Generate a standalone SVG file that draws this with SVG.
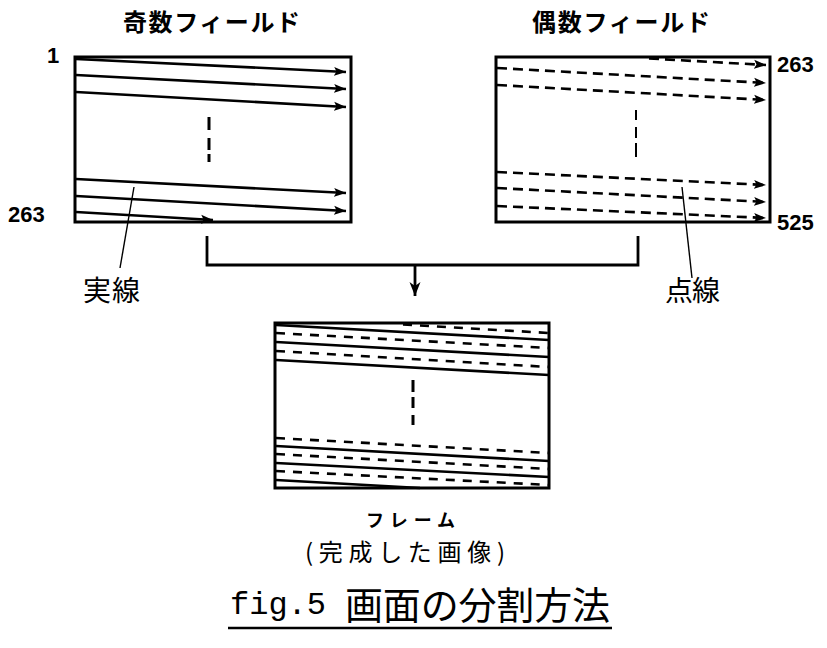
<svg xmlns="http://www.w3.org/2000/svg" width="827" height="648" viewBox="0 0 827 648">
<style>
.box{fill:none;stroke:#000;stroke-width:3}
.sl{fill:none;stroke:#000;stroke-width:2.6}
.dl{fill:none;stroke:#000;stroke-width:2.6;stroke-dasharray:10 6}
.fd{fill:none;stroke:#000;stroke-width:2.6;stroke-dasharray:9 8}
.vd{fill:none;stroke:#000;stroke-width:3}
.con{fill:none;stroke:#000;stroke-width:2.8}
.lead{fill:none;stroke:#000;stroke-width:1.4}
.ttl{font-family:"Noto Sans CJK JP","Noto Sans",sans-serif;font-weight:bold;font-size:24px;fill:#000}
.lbl{font-family:"Noto Sans CJK JP","Noto Sans",sans-serif;font-size:28px;fill:#000}
.num{font-family:"Liberation Sans",Arial,sans-serif;font-weight:bold;font-size:22px;fill:#000}
</style>
<defs>
<marker id="ah" markerUnits="userSpaceOnUse" markerWidth="14" markerHeight="12" refX="12" refY="5" orient="auto">
<path d="M0,0.5 L12,5 L0,9.5 L2.5,5 Z" fill="#000"/>
</marker>
<marker id="down" markerUnits="userSpaceOnUse" markerWidth="16" markerHeight="14" refX="14" refY="6" orient="auto">
<path d="M0,0.5 L4,6 L0,11.5 L14,6 Z" fill="#000"/>
</marker>
</defs>
<rect width="827" height="648" fill="#fff"/>

<g id="odd-field">
<text class="ttl" x="123" y="31" textLength="177" lengthAdjust="spacing">奇数フィールド</text>
<rect class="box" x="75" y="57" width="276" height="165"/>
<path class="sl" d="M76,59 L346,72" marker-end="url(#ah)"/>
<path class="sl" d="M76,75 L346,89" marker-end="url(#ah)"/>
<path class="sl" d="M76,92 L346,107" marker-end="url(#ah)"/>
<path class="sl" d="M76,179 L346,193" marker-end="url(#ah)"/>
<path class="sl" d="M76,196 L346,211" marker-end="url(#ah)"/>
<path class="sl" d="M76,212 L213,220" marker-end="url(#ah)"/>
<path class="vd" d="M209,117V130 M209,138V150 M209,154V162"/>
<text class="num" x="47" y="63">1</text>
<text class="num" x="8" y="222">263</text>
</g>

<g id="even-field">
<text class="ttl" x="532" y="31" textLength="178" lengthAdjust="spacing">偶数フィールド</text>
<rect class="box" x="496" y="57" width="274" height="165"/>
<path class="dl" d="M649,58.5 L766,65" marker-end="url(#ah)"/>
<path class="dl" d="M497,68 L766,83" marker-end="url(#ah)"/>
<path class="dl" d="M497,85 L766,100" marker-end="url(#ah)"/>
<path class="dl" d="M497,172 L766,185" marker-end="url(#ah)"/>
<path class="dl" d="M497,188 L766,202" marker-end="url(#ah)"/>
<path class="dl" d="M497,206 L766,218" marker-end="url(#ah)"/>
<path class="vd" style="stroke-width:2" d="M636,110V120 M636,127V138 M636,143V157"/>
<text class="num" x="777" y="72">263</text>
<text class="num" x="777" y="230">525</text>
</g>

<g id="frame">
<rect class="box" x="275" y="323" width="274" height="165"/>
<path class="sl" d="M276,325 L549,340"/>
<path class="sl" d="M276,342 L549,357"/>
<path class="sl" d="M276,360 L549,375"/>
<path class="sl" d="M276,446 L549,461"/>
<path class="sl" d="M276,463 L549,477"/>
<path class="sl" d="M276,480 L420,488"/>
<path class="fd" d="M403,324.5 L549,333"/>
<path class="fd" d="M276,333 L549,348"/>
<path class="fd" d="M276,351 L549,367"/>
<path class="fd" d="M276,438 L549,453"/>
<path class="fd" d="M276,454 L549,469"/>
<path class="fd" d="M276,471 L549,485"/>
<path class="vd" d="M413,380V392 M413,397V408 M413,415V425"/>
<text class="ttl" style="font-size:18px" x="366" y="527" textLength="89" lengthAdjust="spacing">フレーム</text>
<text class="ttl" style="font-weight:normal;font-size:24px" x="305" y="561" textLength="200" lengthAdjust="spacing">(完成した画像)</text>
</g>

<g id="label-solid">
<text class="lbl" x="83" y="301" textLength="57" lengthAdjust="spacing">実線</text>
</g>
<g id="label-dashed">
<text class="lbl" x="665" y="301" textLength="55" lengthAdjust="spacing">点線</text>
</g>

<g id="connectors">
<path class="con" d="M207,236 V265 H638 V236"/>
<path class="con" d="M415,265 V296" marker-end="url(#down)"/>
<path class="lead" d="M134,187 L120,268"/>
<path class="lead" d="M682,187 L692,278"/>
</g>

<g id="caption">
<text x="230" y="614" style="font-family:'Liberation Mono',monospace;font-size:32px;fill:#000" textLength="96" lengthAdjust="spacing">fig.5</text>
<text x="345" y="619" style="font-family:'Noto Sans CJK JP',sans-serif;font-size:38px;fill:#000" textLength="265" lengthAdjust="spacing">画面の分割方法</text>
<path d="M228,628 H612" stroke="#000" stroke-width="2.4"/>
</g>
</svg>
